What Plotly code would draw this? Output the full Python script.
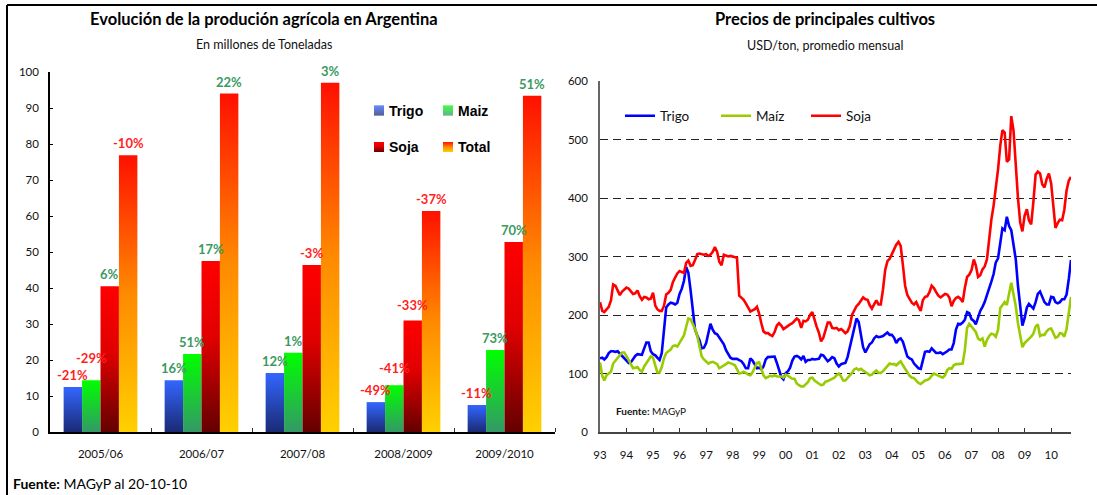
import plotly.graph_objects as go
import pandas as pd

W, H = 1097, 495

# ---------------- Producción agrícola (millones de toneladas) ----------------
campanias = ["2005/06", "2006/07", "2007/08", "2008/2009", "2009/2010"]
trigo_prod = [12.5, 14.4, 16.4, 8.3, 7.5]
maiz_prod = [14.4, 21.7, 22.0, 13.0, 22.8]
soja_prod = [40.5, 47.5, 46.4, 31.0, 52.8]
total_prod = [76.9, 94.0, 97.0, 61.4, 93.4]

trigo_var = ["-21%", "16%", "12%", "-49%", "-11%"]
maiz_var = ["-29%", "51%", "1%", "-41%", "73%"]
soja_var = ["6%", "17%", "-3%", "-33%", "70%"]
total_var = ["-10%", "22%", "3%", "-37%", "51%"]

prod_ticks = [0, 10, 20, 30, 40, 50, 60, 70, 80, 90, 100]

# ---------------- Precios mensuales (USD/ton), desde ene-1993 ----------------
precio_inicio = "1993-01-01"
trigo_precio = [
    126, 127, 124, 128, 135, 138, 138, 137, 138, 134,
    129, 126, 121, 118, 119, 125, 130, 133, 132, 132,
    143, 153, 153, 138, 133, 131, 127, 123, 135, 175,
    213, 218, 221, 220, 218, 221, 236, 245, 258, 282,
    272, 242, 212, 175, 165, 157, 143, 144, 152, 170,
    185, 175, 169, 167, 162, 157, 150, 140, 133, 127,
    125, 125, 125, 123, 121, 116, 109, 109, 126, 122,
    116, 109, 110, 107, 112, 124, 128, 128, 129, 129,
    118, 106, 94, 90, 101, 104, 110, 122, 129, 130,
    128, 124, 130, 120, 123, 123, 125, 124, 124, 125,
    132, 131, 126, 121, 124, 128, 126, 117,
    112, 116, 117, 118, 128, 145, 163, 178, 194, 188, 166, 145,
    136, 145, 150, 153, 160, 164, 162, 163, 164, 167,
    170, 166, 166, 161, 152, 158, 160, 154, 140, 129,
    126, 124, 117, 113, 109, 108, 124, 137, 138, 137,
    143, 139, 135, 135, 136, 133, 135, 138, 141, 141,
    152, 175, 185, 184, 187, 192, 205, 203, 193, 190,
    184, 195, 207, 214, 222, 234, 244, 257, 270, 290,
    297, 324, 348, 345, 368, 352, 345, 320, 295, 250,
    210, 182, 195, 213, 219, 215, 211, 222, 236, 240,
    231, 222, 218, 218, 231, 230, 222, 220, 222, 227,
    227, 235, 262, 294,
]
maiz_precio = [
    119, 96, 88, 97, 100, 103, 117, 122, 127, 133,
    136, 136, 130, 123, 116, 109, 110, 111, 106, 103,
    112, 118, 125, 129, 127, 113, 102, 102, 111, 126,
    135, 138, 141, 147, 148, 146, 152, 158, 165, 180,
    194, 193, 185, 176, 164, 148, 129, 124, 120, 117,
    119, 120, 118, 116, 109, 111, 113, 116, 119, 118,
    116, 114, 108, 100, 101, 103, 101, 98, 97, 102,
    110, 118, 119, 108, 97, 92, 94, 96, 95, 97,
    95, 95, 95, 93, 98, 96, 93, 91, 91, 83,
    80, 78, 78, 82, 85, 92, 93, 88, 85, 82,
    80, 81, 86, 87, 89, 91, 93, 97,
    100, 95, 88, 88, 92, 97, 101, 107, 109, 106, 108, 105,
    103, 100, 97, 98, 102, 105, 101, 101, 104, 108,
    113, 117, 116, 116, 114, 118, 121, 114, 108, 100,
    96, 93, 92, 88, 84, 82, 85, 88, 89, 91,
    96, 100, 98, 96, 94, 93, 97, 106, 109, 108,
    114, 116, 116, 117, 117, 140, 178, 185, 180, 175,
    171, 160, 157, 160, 146, 157, 164, 168, 167, 163,
    175, 212, 218, 222, 217, 235, 255, 235, 215, 186,
    164, 145, 152, 156, 158, 163, 168, 180, 184, 164,
    166, 166, 172, 176, 177, 168, 161, 163, 169, 168,
    163, 176, 205, 231,
]
soja_precio = [
    222, 207, 205, 209, 214, 225, 252, 250, 242, 234,
    240, 244, 247, 245, 240, 236, 237, 242, 232, 226,
    231, 230, 227, 228, 238, 216, 210, 207, 207, 216,
    235, 238, 243, 256, 264, 271, 275, 273, 272, 289,
    293, 284, 285, 294, 304, 305, 304, 303, 304, 301,
    303, 308, 316, 308, 291, 285, 303, 301, 300, 301,
    300, 300, 298, 233, 230, 226, 220, 213, 206, 208,
    210, 214, 202, 185, 172, 169, 169, 166, 164, 171,
    182, 186, 182, 176, 179, 182, 184, 186, 190, 194,
    191, 178, 190, 189, 192, 200, 205, 190, 180, 170,
    155, 161, 172, 187, 187, 178, 177, 178,
    174, 176, 173, 169, 172, 181, 200, 208, 215, 219, 225, 230,
    227, 226, 217, 211, 218, 225, 218, 218, 244, 277,
    292, 296, 304, 312, 320, 325, 318, 285, 250, 234,
    226, 221, 218, 222, 214, 207, 225, 231, 232, 239,
    250, 246, 239, 233, 230, 233, 236, 235, 230, 215,
    224, 229, 231, 228, 222, 246, 265, 269, 277, 295,
    285, 265, 268, 278, 283, 295, 335, 363, 387, 417,
    449, 490, 516, 512, 462, 466, 540, 515, 455, 400,
    358, 343, 370, 381, 362, 355, 393, 440, 445, 442,
    423, 418, 433, 442, 425, 380, 349, 357, 363, 362,
    380, 413, 430, 436,
]
precio_ticks = [0, 100, 200, 300, 400, 500, 600]

assert len(trigo_precio) == len(maiz_precio) == len(soja_precio), (
    len(trigo_precio), len(maiz_precio), len(soja_precio))

fechas = pd.date_range(precio_inicio, periods=len(soja_precio), freq="MS")

# ---------------- helpers ----------------
def fx(p):
    return p / W


def fy(p):
    return 1 - p / H


def hex_rgb(h):
    h = h.lstrip("#")
    return tuple(int(h[i:i + 2], 16) for i in (0, 2, 4))


def scale_color(cscale, t):
    for (p0, c0), (p1, c1) in zip(cscale[:-1], cscale[1:]):
        if p0 <= t <= p1:
            f = 0 if p1 == p0 else (t - p0) / (p1 - p0)
            a, b = hex_rgb(c0), hex_rgb(c1)
            return "rgb(%d,%d,%d)" % tuple(round(a[k] + (b[k] - a[k]) * f) for k in range(3))
    return cscale[-1][1]


GILL = "Lato"
RED_LBL = "#FF1F1F"
GREEN_LBL = "#3A9A62"

fig = go.Figure()

# ---------------- Left: gradient bars ----------------
series = [
    ("Trigo", trigo_prod, trigo_var, [[0, "#1A2A74"], [1, "#3366FF"]]),
    ("Maiz", maiz_prod, maiz_var, [[0, "#339966"], [1, "#00FF00"]]),
    ("Soja", soja_prod, soja_var, [[0, "#640000"], [0.55, "#E00000"], [1, "#FF0000"]]),
    ("Total", total_prod, total_var, [[0, "#FFD000"], [0.5, "#FF8A00"], [1, "#FF1000"]]),
]
n_series = len(series)
group_w = 0.73
bar_w = group_w / n_series
label_lift = {("Maiz", 0): 10, ("Maiz", 3): 5, ("Soja", 3): 3}

for s, (name, vals, var, cscale) in enumerate(series):
    for i, v in enumerate(vals):
        c = i + (s - (n_series - 1) / 2) * bar_w
        x0, x1 = c - bar_w / 2, c + bar_w / 2
        fig.add_trace(go.Scatter(
            x=[x0, x0, x1, x1, x0], y=[0, v, v, 0, 0],
            fill="toself", mode="lines", name=name,
            line=dict(width=0, color="rgba(0,0,0,0)"),
            fillgradient=dict(type="vertical", colorscale=cscale),
            showlegend=False, hoverinfo="skip",
            xaxis="x", yaxis="y",
        ))
        fig.add_annotation(
            x=c, y=v, xref="x", yref="y", text=var[i], showarrow=False,
            yanchor="middle", yshift=12 + label_lift.get((name, i), 0),
            font=dict(family=GILL, size=13, weight="bold",
                      color=RED_LBL if var[i].startswith("-") else GREEN_LBL),
        )

# left legend (2 x 2 grid, gradient squares)
left_leg_font = dict(family="Liberation Sans", size=14, weight="bold", color="#000000")
leg_cells = [(374, 110.5), (443, 110.5), (374, 147), (443, 147)]
for (name, _, _, cscale), (lx, ly) in zip(series, leg_cells):
    n_strip = 10
    for k in range(n_strip):
        t = 1 - (k + 0.5) / n_strip
        fig.add_shape(type="rect", xref="paper", yref="paper",
                      x0=fx(lx), x1=fx(lx + 10),
                      y0=fy(ly - 5 + k), y1=fy(ly - 5 + k + 1),
                      fillcolor=scale_color(cscale, t), line=dict(width=0), layer="above")
    fig.add_annotation(x=fx(lx + 13), y=fy(ly), xref="paper", yref="paper", text=name,
                       showarrow=False, xanchor="left", yanchor="middle", font=left_leg_font)

# ---------------- Right: price lines ----------------
lines = [
    ("Trigo", trigo_precio, "#0000FF", "legend"),
    ("Maíz", maiz_precio, "#99CC00", "legend2"),
    ("Soja", soja_precio, "#FF0000", "legend3"),
]
for name, vals, col, leg in lines:
    fig.add_trace(go.Scatter(
        x=fechas, y=vals, mode="lines", name=name,
        line=dict(color=col, width=2.6), legend=leg,
        xaxis="x2", yaxis="y2",
    ))

# ---------------- Layout ----------------
ax_font = dict(family=GILL, size=11.5, color="#111111")
right_leg_font = dict(family=GILL, size=13.5, color="#111111")


def leg(x_text, y_center, font):
    return dict(
        x=fx(x_text - 40), y=fy(y_center), xanchor="left", yanchor="middle",
        orientation="h", bgcolor="rgba(0,0,0,0)", borderwidth=0,
        font=font, itemwidth=30,
    )


fig.update_layout(
    width=W, height=H,
    margin=dict(l=0, r=0, t=0, b=0, autoexpand=False),
    paper_bgcolor="white", plot_bgcolor="white",
    font=dict(family=GILL, color="#111111"),
    xaxis=dict(
        domain=[fx(50), fx(555)], range=[-0.5, len(campanias) - 0.5],
        tickmode="array", tickvals=list(range(len(campanias))), ticktext=campanias,
        ticks="", showgrid=False, zeroline=False,
        showline=True, linecolor="#000000", linewidth=1.5,
        tickfont=ax_font, ticklabelstandoff=10,
        minor=dict(tickmode="array",
                   tickvals=[i + 0.5 for i in range(len(campanias))],
                   ticks="inside", ticklen=4, tickcolor="#333333", tickwidth=1, showgrid=False),
        anchor="y", fixedrange=True,
    ),
    yaxis=dict(
        domain=[fy(432), fy(72)], range=[0, 100],
        tickmode="array", tickvals=prod_ticks,
        ticks="inside", ticklen=3, tickcolor="#000000",
        showgrid=False, zeroline=False,
        showline=True, linecolor="#000000", linewidth=1.5,
        tickfont=ax_font, ticklabelstandoff=7, anchor="x",
    ),
    xaxis2=dict(
        domain=[fx(600), fx(1071)], type="date",
        range=[fechas[0], fechas[-1]],
        tick0=precio_inicio, dtick="M12", tickformat="%y",
        ticks="inside", ticklen=4, tickcolor="#333333",
        showgrid=False, zeroline=False,
        showline=True, linecolor="#444444", linewidth=1.5,
        tickfont=ax_font, ticklabelstandoff=11, anchor="y2",
    ),
    yaxis2=dict(
        domain=[fy(432), fy(81)], range=[0, 600],
        tickmode="array", tickvals=precio_ticks,
        ticks="", showgrid=True, gridcolor="#222222", gridwidth=1,
        griddash="8px,5px", zeroline=False,
        showline=True, linecolor="#666666", linewidth=1.5,
        tickfont=ax_font, ticklabelstandoff=8, anchor="x2",
    ),
    yaxis3=dict(
        domain=[fy(432), fy(81)], range=[0, 600], overlaying="y2", side="right",
        tickmode="array", tickvals=precio_ticks,
        ticks="inside", ticklen=4, tickcolor="#333333",
        showgrid=False, zeroline=False,
        showline=True, linecolor="#222222", linewidth=1.5,
        tickfont=ax_font, ticklabelstandoff=8, anchor="x2",
    ),
    legend=leg(660, 116, right_leg_font),
    legend2=leg(756, 116, right_leg_font),
    legend3=leg(846, 116, right_leg_font),
    showlegend=True,
)

# ---------------- Titles and notes ----------------
title_font = dict(family=GILL, size=16.5, weight="bold", color="#000000")
sub_font = dict(family=GILL, size=12.5, color="#111111")
texts = [
    ("Evolución de la produción agrícola en Argentina", 264, 19, title_font, "center"),
    ("En millones de Toneladas", 264, 44, sub_font, "center"),
    ("Precios de principales cultivos", 825, 19, title_font, "center"),
    ("USD/ton, promedio mensual", 825, 45, sub_font, "center"),
    ("<b>Fuente:</b> MAGyP al 20-10-10", 11, 483, dict(family=GILL, size=14, color="#000000"), "left"),
    ("<b>Fuente:</b> MAGyP", 614, 411, dict(family=GILL, size=10, color="#111111"), "left"),
]
for txt, x, y, f, anchor in texts:
    fig.add_annotation(
        x=fx(x), y=fy(y), xref="paper", yref="paper", text=txt, showarrow=False,
        xanchor=anchor, yanchor="middle", font=f,
    )

# frame lines (top and left)
fig.add_shape(type="line", xref="paper", yref="paper", x0=fx(7), x1=1, y0=fy(5), y1=fy(5),
              line=dict(color="#000000", width=2))
fig.add_shape(type="line", xref="paper", yref="paper", x0=fx(7), x1=fx(7), y0=fy(5), y1=0,
              line=dict(color="#000000", width=2))

fig.write_html(
    "out.html",
    config={"displayModeBar": False},
    post_script="document.body.style.margin='0px';document.body.style.padding='0px';",
)
